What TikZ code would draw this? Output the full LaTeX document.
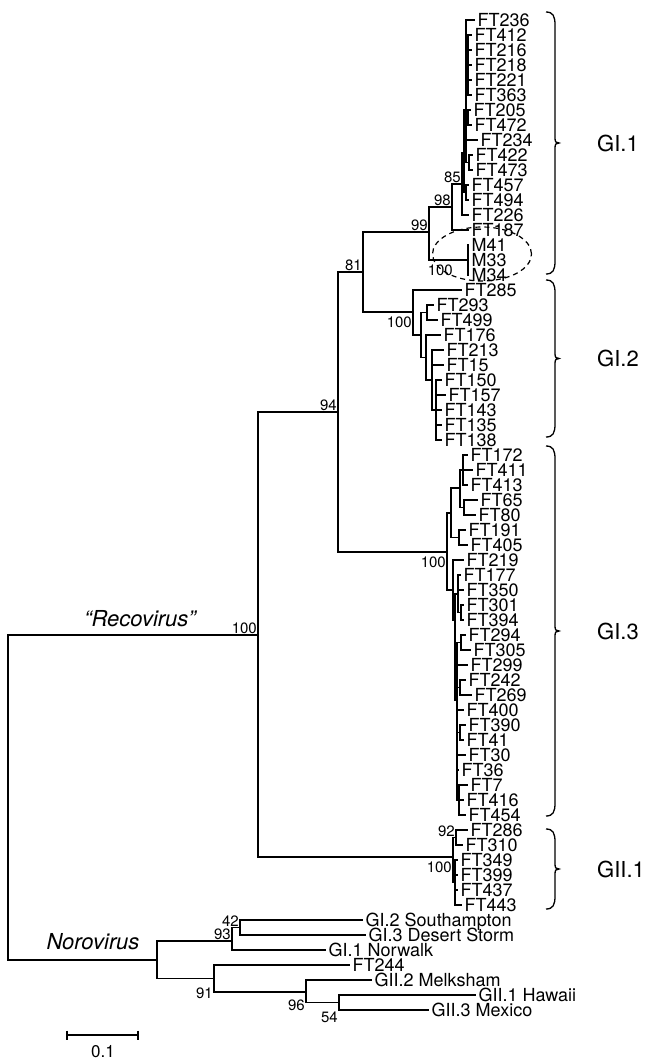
\documentclass[tikz,border=0pt]{standalone}
\usepackage{fontspec}
\setmainfont{TeX Gyre Heros}

% curly bracket for a clade: top, bottom, label, name
\newcommand{\cladebrace}[4]{%
    \pgfmathsetmacro\cbmid{(#1+#2)/2}
    \draw[clbrace]
        (546,#1) .. controls (553,#1) and (555,#1+4) .. (555,#1+13)
        -- (555,\cbmid-5) .. controls (555,\cbmid-1) and (556,\cbmid) .. (559,\cbmid)
        .. controls (556,\cbmid) and (555,\cbmid+1) .. (555,\cbmid+5)
        -- (555,#2-13) .. controls (555,#2-4) and (553,#2) .. (546,#2);
    \node[grp] (#4) at (597,\cbmid) {#3};
}

\begin{document}
\begin{tikzpicture}[x=1pt, y=-1pt,
    branch/.style={line width=1.4pt},
    leaf/.style={anchor=west, inner xsep=2.5pt, inner ysep=0pt,
        text height=12.9pt, text depth=0pt, font=\fontsize{18}{18}\selectfont},
    boot/.style={inner sep=1pt, font=\fontsize{15}{15}\selectfont},
    bootup/.style={boot, anchor=base east, yshift=1.5pt},
    bootdown/.style={boot, anchor=north east, yshift=-4pt},
    grp/.style={anchor=west, inner sep=0pt, font=\fontsize{22}{22}\selectfont},
    genus/.style={inner sep=0pt, font=\fontsize{22}{22}\selectfont\itshape},
    clbrace/.style={line width=1.3pt},
  ]

    \useasboundingbox (0,0) rectangle (653,1060);

    % leaves (name/y/tip)
    \foreach \nm/\y/\tp in {
        FT236/20/475, FT412/35/472, FT216/50/472, FT218/65/472,
        FT221/80/472, FT363/95/472, FT205/110/471, FT472/125/472,
        FT234/140/478, FT422/155/473, FT473/170/473, FT457/185/469,
        FT494/200/469, FT226/215/469, FT187/230/469,
        M41/245/469, M33/260/469, M34/275/469,
        FT285/290/462, FT293/305/434, FT499/320/438, FT176/335/441,
        FT213/350/444, FT15/365/444, FT150/380/442, FT157/395/446,
        FT143/410/442, FT135/425/442, FT138/440/442,
        FT172/455/468, FT411/470/473, FT413/485/468, FT65/500/478,
        FT80/515/476, FT191/530/466, FT405/545/468, FT219/560/464,
        FT177/575/461, FT350/590/464, FT301/605/464, FT394/620/464,
        FT294/635/466, FT305/650/471, FT299/665/468, FT242/680/466,
        FT269/695/472, FT400/710/464, FT390/725/466, FT41/740/464,
        FT30/755/466, FT36/770/459, FT7/785/468, FT416/800/464,
        FT454/815/466,
        FT286/830/468, FT310/845/463, FT349/860/458, FT399/875/458,
        FT437/890/458, FT443/905/462}{
        \node[leaf] (\nm) at (\tp,\y) {\nm};
    }

    % reference strains
    \foreach \nm/\txt/\y/\tp in {
        southampton/GI.2 Southampton/920/363,
        desert/GI.3 Desert Storm/935/366,
        norwalk/GI.1 Norwalk/950/326,
        ft244/FT244/965/350,
        melksham/GII.2 Melksham/980/372,
        hawaii/GII.1 Hawaii/995/476,
        mexico/GII.3 Mexico/1010/429}{
        \node[leaf] (\nm) at (\tp,\y) {\txt};
    }

    % internal nodes
    \coordinate (root) at (8,797.5);
    \coordinate (reco) at (258,635);
    \coordinate (noro) at (157,960);
    \coordinate (n94) at (338,412);
    \coordinate (n81) at (363,272);
    \coordinate (n99) at (429,232);
    \coordinate (n98) at (452,207);
    \coordinate (n85) at (462,184);
    \coordinate (nU) at (464,153);
    \coordinate (nV) at (466,110);
    \coordinate (nV1) at (468,65);
    \coordinate (nV2) at (468,117.5);
    \coordinate (nV3) at (469,162.5);
    \coordinate (nW) at (466,192.5);
    \coordinate (nM) at (468,260);
    \coordinate (nG2) at (413,312);
    \coordinate (nA) at (421,335);
    \coordinate (nB) at (427,312.5);
    \coordinate (nC) at (426,357.5);
    \coordinate (nD) at (432,380);
    \coordinate (nE) at (436,410);
    \coordinate (nG3) at (447,552);
    \coordinate (nD3) at (451,513);
    \coordinate (nE3) at (460,488);
    \coordinate (nG) at (463,470);
    \coordinate (nH) at (464,507.5);
    \coordinate (nF3) at (459,537.5);
    \coordinate (nI) at (453,590);
    \coordinate (nJ) at (455,620);
    \coordinate (nK) at (458,594);
    \coordinate (nK2) at (461,612.5);
    \coordinate (nL) at (457,700);
    \coordinate (nM3) at (461,642.5);
    \coordinate (nN) at (460,687.5);
    \coordinate (nP) at (460,732.5);
    \coordinate (nQ) at (459,800);
    \coordinate (nGII) at (453,857);
    \coordinate (n92) at (456,837.5);
    \coordinate (nR) at (455,882.5);
    \coordinate (n93) at (232,941);
    \coordinate (n42) at (240,927.5);
    \coordinate (n91) at (214,978.5);
    \coordinate (n96) at (306,992);
    \coordinate (n54) at (339,1002.5);

    % branches
    \foreach \p/\c in {
        root/reco, root/noro, reco/n94, reco/nGII,
        n94/n81, n94/nG3, n81/n99, n81/nG2,
        n99/n98, n99/nM, n98/n85, n98/FT187,
        n85/nU, n85/FT226, nU/nV, nU/nW,
        nV/FT236, nV/nV1, nV/nV2, nV/FT234, nV/nV3,
        nV1/FT412, nV1/FT216, nV1/FT218, nV1/FT221, nV1/FT363,
        nV2/FT205, nV2/FT472, nV3/FT422, nV3/FT473,
        nW/FT457, nW/FT494, nM/M41, nM/M33, nM/M34,
        nG2/FT285, nG2/nA, nA/nB, nA/nC,
        nB/FT293, nB/FT499, nC/FT176, nC/nD,
        nD/FT213, nD/FT15, nD/nE,
        nE/FT150, nE/FT157, nE/FT143, nE/FT135, nE/FT138,
        nG3/nD3, nG3/nI, nD3/nE3, nD3/nF3,
        nE3/nG, nE3/nH, nG/FT172, nG/FT411, nG/FT413,
        nH/FT65, nH/FT80, nF3/FT191, nF3/FT405,
        nI/FT219, nI/nJ, nJ/nK, nJ/nL,
        nK/FT177, nK/FT350, nK/nK2, nK2/FT301, nK2/FT394,
        nL/nM3, nL/FT299, nL/nN, nL/FT400, nL/nP, nL/FT30, nL/FT36, nL/nQ,
        nM3/FT294, nM3/FT305, nN/FT242, nN/FT269,
        nP/FT390, nP/FT41, nQ/FT7, nQ/FT416, nQ/FT454,
        nGII/n92, nGII/nR, n92/FT286, n92/FT310,
        nR/FT349, nR/FT399, nR/FT437, nR/FT443,
        noro/n93, noro/n91, n93/n42, n93/norwalk,
        n42/southampton, n42/desert, n91/ft244, n91/n96,
        n96/melksham, n96/n54, n54/hawaii, n54/mexico}{
        \draw[branch] (\p) |- (\c);
    }

    % bootstrap values
    \node[bootup] (b100a) at (reco) {100};
    \node[bootup] (b94) at (n94) {94};
    \node[bootup] (b81) at (n81) {81};
    \node[bootup] (b99) at (n99) {99};
    \node[bootup] (b98) at (n98) {98};
    \node[bootup] (b85) at (n85) {85};
    \node[bootup] (b92) at (n92) {92};
    \node[bootup] (b42) at (n42) {42};
    \node[bootup] (b93) at (n93) {93};
    \node[bootdown, xshift=-14pt] (b100m) at (nM) {100};
    \node[bootdown] (b100b) at (nG2) {100};
    \node[bootdown] (b100c) at (nG3) {100};
    \node[bootdown] (b100d) at (nGII) {100};
    \node[bootdown, yshift=-4pt] (b91) at (n91) {91};
    \node[bootdown, yshift=-3pt] (b96) at (n96) {96};
    \node[bootdown, yshift=-4pt] (b54) at (n54) {54};

    % genus names
    \node[genus] (recolab) at (140,619) {``Recovirus''};
    \node[genus] (norolab) at (93,942) {Norovirus};

    % M clade
    \draw[line width=1.2pt, dash pattern=on 5pt off 4pt]
        (482,254) ellipse [x radius=49.5pt, y radius=27pt];

    % genogroups
    \cladebrace{12}{274}{GI.1}{gi1}
    \cladebrace{280}{437}{GI.2}{gi2}
    \cladebrace{446}{816}{GI.3}{gi3}
    \cladebrace{829}{909}{GII.1}{gii1}

    % scale bar
    \coordinate (sbl) at (67,1035);
    \coordinate (sbr) at (138,1035);
    \draw[branch] (sbl) -- (sbr);
    \draw[branch] ([yshift=4.5pt]sbl) -- ([yshift=-4.5pt]sbl);
    \draw[branch] ([yshift=4.5pt]sbr) -- ([yshift=-4.5pt]sbr);
    \node[font=\fontsize{17}{17}\selectfont, inner sep=0pt] (sblab) at (103,1052) {0.1};
\end{tikzpicture}
\end{document}
